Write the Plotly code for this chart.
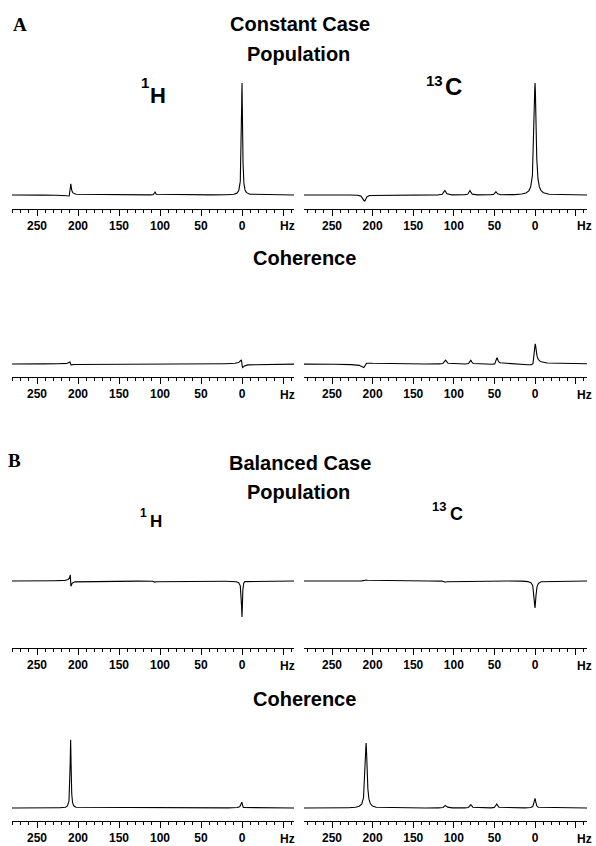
import numpy as np
import plotly.graph_objects as go

# the figure fills the whole 596x846 page (the body margin is removed below)
W, H = 596, 846
OFF = 0

# ---------------- data ----------------
# frequency axis (Hz); the spectra are plotted with the axis reversed
freq = np.linspace(-64, 285, 3491)

# axis ticks (the unit label sits at the last major tick)
major_vals = [250, 200, 150, 100, 50, 0, -50]
major_text = ["250", "200", "150", "100", "50", "0", ""]
unit_label = "Hz"

# peak tables: (centre Hz, absorptive height, dispersive height, half-width Hz)
peaks_A_pop_H = [(0, 1.00, 0.0, 0.8), (209, 0.09, -0.03, 0.7), (106, 0.025, 0.0, 0.9)]
peaks_A_pop_C = [(0, 1.00, 0.0, 1.5), (210, -0.055, 0.0, 2.0), (111, 0.04, 0.0, 1.5),
                 (80, 0.04, 0.0, 1.3), (48, 0.03, 0.0, 1.3)]
peaks_A_coh_H = [(0, 0.006, 0.035, 0.8), (209, 0.005, 0.015, 0.8)]
peaks_A_coh_C = [(0, 0.17, -0.04, 1.3), (47, 0.055, -0.01, 1.3), (79, 0.035, 0.0, 1.3),
                 (110, 0.035, 0.0, 1.5), (209, -0.02, -0.02, 2.0)]
peaks_B_pop_H = [(0, -0.32, -0.02, 0.7), (209, 0.01, 0.05, 0.4), (106, -0.012, 0.0, 1.0)]
peaks_B_pop_C = [(0, -0.24, 0.0, 1.3), (110, -0.012, 0.0, 1.5), (208, 0.01, 0.0, 2.0)]
peaks_B_coh_H = [(209, 0.61, 0.0, 0.7), (0, 0.05, 0.01, 1.0), (106, 0.005, 0.0, 1.0)]
peaks_B_coh_C = [(208, 0.58, 0.0, 1.4), (0, 0.085, 0.0, 1.2), (47, 0.035, 0.0, 1.3),
                 (79, 0.03, 0.0, 1.3), (110, 0.025, 0.0, 1.5)]


def spectrum(peaks):
    y = np.zeros_like(freq)
    for x0, a, d, w in peaks:
        dx = freq - x0
        den = dx * dx + w * w
        y += a * w * w / den + d * 2 * w * dx / den
    return y


def fx(px):
    return (px - OFF) / W


def fy(px):
    return 1 - (px - OFF) / H


FONT = "Liberation Sans, Arial, sans-serif"
SERIF = "Liberation Serif, Times New Roman, serif"


def ann(text, xpx, ypx, size, family=FONT, weight="bold"):
    return dict(text=text, x=fx(xpx), y=fy(ypx), xref="paper", yref="paper",
                xanchor="center", yanchor="middle", showarrow=False,
                font=dict(family=family, size=size, color="black", weight=weight))


# ---------------- layout geometry (page pixels) ----------------
PX_PER_UNIT = 112.0
LEFT = (12, 294, 280.5, -63.4, 287)     # x0px, x1px, range start, range end, unit-label x
RIGHT = (304, 587, 284.5, -64.0, 584)
# rows: (axis line px, baseline px, top px)
ROWS = [(209, 195, 70), (377, 364, 290), (648, 581, 535), (821, 808, 720)]

panels = [
    (peaks_A_pop_H, 0, LEFT), (peaks_A_pop_C, 0, RIGHT),
    (peaks_A_coh_H, 1, LEFT), (peaks_A_coh_C, 1, RIGHT),
    (peaks_B_pop_H, 2, LEFT), (peaks_B_pop_C, 2, RIGHT),
    (peaks_B_coh_H, 3, LEFT), (peaks_B_coh_C, 3, RIGHT),
]

fig = go.Figure()
layout = dict(
    width=W, height=H, margin=dict(l=0, r=0, t=0, b=0, autoexpand=False),
    paper_bgcolor="white", plot_bgcolor="white", showlegend=False,
)
annotations = []

for i, (pk, row, col) in enumerate(panels, start=1):
    sfx = "" if i == 1 else str(i)
    axis_px, base_px, top_px = ROWS[row]
    x0px, x1px, r0, r1, unit_x = col
    ymin = -(axis_px - base_px) / PX_PER_UNIT
    ymax = ymin + (axis_px - top_px) / PX_PER_UNIT
    fig.add_trace(go.Scatter(
        x=freq, y=spectrum(pk), mode="lines",
        line=dict(color="black", width=1.1),
        xaxis="x" + sfx, yaxis="y" + sfx, hoverinfo="skip",
    ))
    layout["xaxis" + sfx] = dict(
        domain=[fx(x0px), fx(x1px)], range=[r0, r1], anchor="y" + sfx,
        automargin=False,
        showline=True, linecolor="black", linewidth=1, mirror=False,
        showgrid=False, zeroline=False,
        tickmode="array", tickvals=major_vals, ticktext=major_text,
        ticks="outside", ticklen=6, tickwidth=1, tickcolor="black",
        tickfont=dict(family=FONT, size=12, color="black", weight="bold"),
        minor=dict(tickmode="linear", tick0=0, dtick=10, ticks="outside",
                   ticklen=2.5, tickwidth=1, tickcolor="black", showgrid=False),
    )
    layout["yaxis" + sfx] = dict(
        domain=[fy(axis_px), fy(top_px)], range=[ymin, ymax],
        anchor="x" + sfx, visible=False, showgrid=False, zeroline=False,
        automargin=False,
    )
    annotations.append(ann(unit_label, unit_x, axis_px + 17.5, 12))

annotations += [
    ann("A", 19.5, 25, 19, SERIF),
    ann("Constant Case", 299.5, 24, 20),
    ann("Population", 298.5, 54, 20),
    ann("1", 145, 83, 15), ann("H", 157.5, 95, 22),
    ann("13", 434.5, 81, 15), ann("C", 453.5, 87, 24),
    ann("Coherence", 304, 258, 20),
    ann("B", 15, 460, 19, SERIF),
    ann("Balanced Case", 299.5, 463, 20),
    ann("Population", 298.5, 492, 20),
    ann("1", 143, 513, 12), ann("H", 156, 521.5, 17),
    ann("13", 438.5, 506.5, 13), ann("C", 456.5, 514, 18),
    ann("Coherence", 304, 699, 20),
]
layout["annotations"] = annotations

fig.update_layout(**layout)
fig.write_html(
    "out.html",
    config={"displayModeBar": False},
    post_script="document.body.style.margin='0px';document.body.style.overflow='hidden';",
)
